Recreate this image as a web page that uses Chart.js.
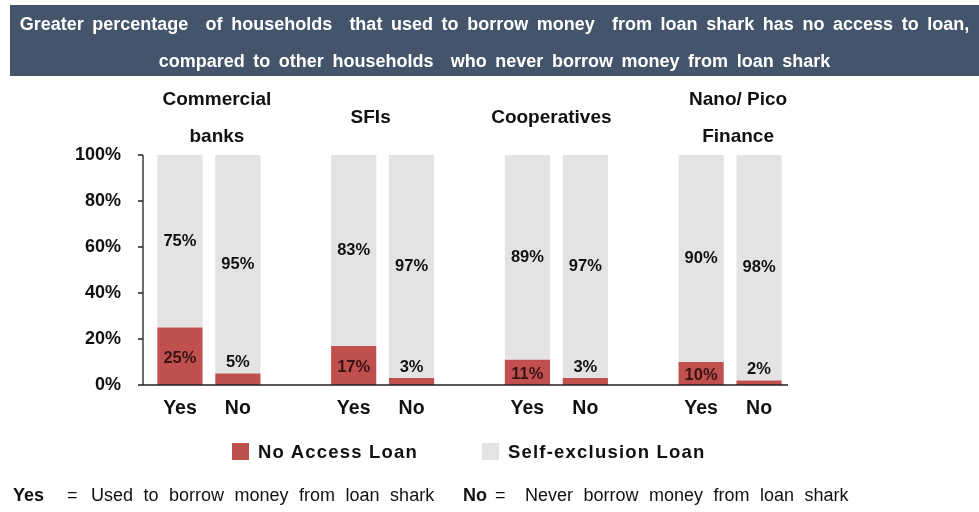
<!DOCTYPE html>
<html>
<head>
<meta charset="utf-8">
<script src="https://cdn.jsdelivr.net/npm/chart.js@4.4.1/dist/chart.umd.min.js"></script>
<style>
  html, body { margin: 0; padding: 0; background: #fff; }
  #wrap { position: relative; width: 979px; height: 512px; overflow: hidden; }
  #chart { position: absolute; left: 0; top: 0; }
  #header {
    position: absolute; left: 10px; top: 5px; width: 969px; height: 71px;
    background: #44546a; color: #fff; text-align: center; white-space: nowrap;
    font-family: "Liberation Sans Narrow", "Arial Narrow", "Liberation Sans", Arial, sans-serif;
    font-weight: bold; font-size: 18px; word-spacing: 3.6px;
  }
  #header div { position: absolute; left: -20px; right: -20px; }
  #legend {
    position: absolute; top: 440px; left: 0; width: 979px; height: 24px;
    font-family: "Liberation Sans", Arial, sans-serif; font-weight: bold; font-size: 18.5px;
    letter-spacing: 1.2px; color: #111;
  }
  .item { position: absolute; top: 0; line-height: 24px; }
  .swatch { position: absolute; top: 3px; width: 17px; height: 17px; }
  #note {
    position: absolute; top: 485px; left: 12px; white-space: nowrap;
    font-family: "Liberation Sans", Arial, sans-serif; font-size: 18px; word-spacing: 5.5px; color: #111;
  }
  #note b { font-weight: bold; }
  #note span { position: absolute; top: 0; }
</style>
</head>
<body>
<div id="wrap">
  <canvas id="chart" width="979" height="512"></canvas>
  <div id="header">
    <div style="top:9px">Greater percentage&nbsp; of households&nbsp; that used to borrow money&nbsp; from loan shark has no access to loan,</div>
    <div style="top:46px">compared to other households&nbsp; who never borrow money from loan shark</div>
  </div>
  <div id="legend">
    <div class="swatch" style="left:232px;background:#c0504d"></div>
    <div class="item" style="left:258px">No Access Loan</div>
    <div class="swatch" style="left:482px;background:#e3e3e3"></div>
    <div class="item" style="left:508px">Self-exclusion Loan</div>
  </div>
  <div id="note">
    <span style="left:1px"><b>Yes</b></span>
    <span style="left:55px">=</span>
    <span style="left:79px">Used to borrow money from loan shark</span>
    <span style="left:451px"><b>No</b></span>
    <span style="left:483px">=</span>
    <span style="left:513px">Never borrow money from loan shark</span>
  </div>
</div>
<script>
'use strict';

// ─── Data ────────────────────────────────────────────────────────────────────
const groups        = [['Commercial', 'banks'], ['SFIs'], ['Cooperatives'], ['Nano/ Pico', 'Finance']];
const answers       = ['Yes', 'No'];
const noAccess      = [25, 5, 17, 3, 11, 3, 10, 2];
const selfExclusion = [75, 95, 83, 97, 89, 97, 90, 98];
const yTicks        = [0, 20, 40, 60, 80, 100];

const RED  = '#c0504d';
const GREY = '#e3e3e3';
const FONT = '"Liberation Sans", Arial, sans-serif';

// Horizontal nudge (px) of each group title relative to its pair of bars
const titleNudge = [8, -12, -5, 8];

// Spread the four Yes/No pairs over the category axis with an empty slot between pairs
const labels = [];
const redData = [];
const greyData = [];
groups.forEach((g, gi) => {
  if (gi > 0) { labels.push(''); redData.push(null); greyData.push(null); }
  answers.forEach((a, ai) => {
    labels.push(a);
    redData.push(noAccess[gi * 2 + ai]);
    greyData.push(selfExclusion[gi * 2 + ai]);
  });
});

// ─── Axis lines, group titles and value labels ──────────────────────────────
const decorPlugin = {
  id: 'decor',
  afterDraw(chart) {
    const { ctx, chartArea, scales } = chart;
    const y = scales.y;
    const axisX = chartArea.left - 8;
    ctx.save();
    ctx.strokeStyle = '#222';
    ctx.lineWidth = 1.3;
    ctx.beginPath();
    ctx.moveTo(axisX, y.getPixelForValue(100));
    ctx.lineTo(axisX, y.getPixelForValue(0));
    ctx.lineTo(chartArea.right, y.getPixelForValue(0));
    yTicks.forEach(t => {
      const py = y.getPixelForValue(t);
      ctx.moveTo(axisX - 5, py);
      ctx.lineTo(axisX, py);
    });
    ctx.stroke();

    // Group titles above each pair
    ctx.fillStyle = '#111';
    ctx.font = 'bold 19px ' + FONT;
    ctx.textAlign = 'center';
    ctx.textBaseline = 'middle';
    groups.forEach((g, gi) => {
      const cx = (scales.x.getPixelForValue(gi * 3) + scales.x.getPixelForValue(gi * 3 + 1)) / 2 + titleNudge[gi];
      const lineH = 37;
      const top = g.length === 1 ? 118 : 100;
      g.forEach((line, li) => ctx.fillText(line, cx, top + li * lineH));
    });

    // Value labels inside / above the stacked segments
    ctx.font = 'bold 16.5px ' + FONT;
    const redMeta = chart.getDatasetMeta(0);
    const greyMeta = chart.getDatasetMeta(1);
    redMeta.data.forEach((bar, i) => {
      const v = redData[i];
      if (v == null) return;
      const ly = v < 8 ? bar.y - 11 : (bar.y + bar.base) / 2 + 2;
      ctx.fillStyle = v < 8 ? '#111' : '#3a1414';
      ctx.fillText(v + '%', bar.x, ly);
    });
    greyMeta.data.forEach((bar, i) => {
      const v = greyData[i];
      if (v == null) return;
      ctx.fillStyle = '#111';
      ctx.fillText(v + '%', bar.x, (bar.y + bar.base) / 2);
    });
    ctx.restore();
  },
};

new Chart(document.getElementById('chart').getContext('2d'), {
  type: 'bar',
  data: {
    labels,
    datasets: [
      { label: 'No Access Loan',      data: redData,  backgroundColor: RED },
      { label: 'Self-exclusion Loan', data: greyData, backgroundColor: GREY },
    ],
  },
  options: {
    responsive: false,
    animation: false,
    layout: { padding: { top: 155, right: 191, bottom: 87, left: 0 } },
    datasets: { bar: { categoryPercentage: 1, barPercentage: 0.78 } },
    plugins: {
      legend:  { display: false },
      tooltip: { enabled: false },
    },
    scales: {
      x: {
        stacked: true,
        grid:   { display: false, drawTicks: false },
        border: { display: false },
        ticks:  { color: '#111', font: { family: FONT, size: 19.5, weight: 'bold' }, padding: 12, maxRotation: 0 },
        afterFit: (scale) => { scale.height = 40; },
      },
      y: {
        stacked: true,
        min: 0,
        max: 100,
        grid:   { display: false, drawTicks: false },
        border: { display: false },
        ticks:  {
          stepSize: 20,
          padding: 30,
          color: '#111',
          font: { family: FONT, size: 18, weight: 'bold' },
          callback: (v) => v + '%',
        },
        afterFit: (scale) => { scale.width = 151; },
      },
    },
  },
  plugins: [decorPlugin],
});
</script>
</body>
</html>
